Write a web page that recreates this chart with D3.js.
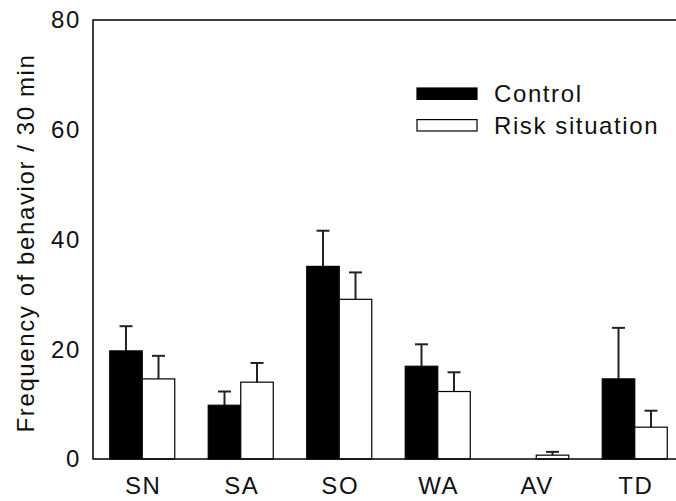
<!DOCTYPE html>
<html>
<head>
<meta charset="utf-8">
<script src="https://cdn.jsdelivr.net/npm/d3@7"></script>
<style>
body { margin: 0; background: #fff; }
text { font-family: "Liberation Sans", Arial, sans-serif; fill: #111; font-size: 24px; letter-spacing: 1.6px; }
</style>
</head>
<body>
<svg id="chart" width="676" height="501"></svg>
<script>
// behaviours on the x axis
const categories = ["SN", "SA", "SO", "WA", "AV", "TD"];
const seriesNames = ["Control", "Risk situation"];
// means
const controlValues = [19.7, 9.8, 35.1, 16.9, 0, 14.6];
const riskValues = [14.6, 14.0, 29.1, 12.3, 0.7, 5.8];
// upper error (mean + SE)
const controlErr = [24.2, 12.3, 41.6, 20.9, 0, 23.9];
const riskErr = [18.8, 17.5, 34.0, 15.8, 1.3, 8.8];
const yTicks = [0, 20, 40, 60, 80];

const svg = d3.select("#chart");
const mLeft = 93, mTop = 20, mBottom = 459, mRight = 684;

const x = d3.scaleBand()
    .domain(categories)
    .range([mLeft, mRight])
    .paddingInner(0.34)
    .paddingOuter(0.17);

const xInner = d3.scaleBand()
    .domain(seriesNames)
    .range([0, x.bandwidth()]);

const y = d3.scaleLinear()
    .domain([0, 80])
    .range([mBottom, mTop]);

const rows = [];
categories.forEach(function(c, i) {
    rows.push({cat: c, series: "Control", v: controlValues[i], e: controlErr[i]});
    rows.push({cat: c, series: "Risk situation", v: riskValues[i], e: riskErr[i]});
});

function fillFor(s) { return s == "Control" ? "#000" : "#fff"; }

// error bars (drawn first so bars cover the base of the line)
const eb = svg.append("g");
rows.filter(d => d.e > d.v).forEach(function(d) {
    const cx = x(d.cat) + xInner(d.series) + xInner.bandwidth() / 2;
    eb.append("line")
        .attr("x1", cx).attr("x2", cx)
        .attr("y1", y(d.v)).attr("y2", y(d.e))
        .attr("stroke", "#222").attr("stroke-width", 2);
    eb.append("line")
        .attr("x1", cx - 6.5).attr("x2", cx + 6.5)
        .attr("y1", y(d.e)).attr("y2", y(d.e))
        .attr("stroke", "#222").attr("stroke-width", 2);
});

svg.append("g").selectAll("rect")
    .data(rows.filter(d => d.v > 0))
    .join("rect")
    .attr("x", d => x(d.cat) + xInner(d.series))
    .attr("y", d => y(d.v))
    .attr("width", xInner.bandwidth())
    .attr("height", d => y(0) - y(d.v))
    .attr("fill", d => fillFor(d.series))
    .attr("stroke", "#000")
    .attr("stroke-width", 1.2);

// frame: left, bottom, top
svg.append("path")
    .attr("d", `M${mRight},${mTop}H${mLeft}V${mBottom}H${mRight}`)
    .attr("fill", "none")
    .attr("stroke", "#000")
    .attr("stroke-width", 1.5);

// y tick labels
svg.append("g").selectAll("text")
    .data(yTicks)
    .join("text")
    .attr("x", 81)
    .attr("y", d => y(d))
    .attr("dy", "0.35em")
    .attr("text-anchor", "end")
    .text(d => d);

// x labels
svg.append("g").selectAll("text")
    .data(categories)
    .join("text")
    .attr("x", d => x(d) + x.bandwidth() / 2 + 1)
    .attr("y", 494)
    .attr("text-anchor", "middle")
    .text(d => d);

svg.append("text")
    .attr("transform", "translate(34,243) rotate(-90)")
    .attr("text-anchor", "middle")
    .text("Frequency of behavior / 30 min");

// legend
const lg = svg.append("g").attr("transform", "translate(417,88)");
seriesNames.forEach(function(s, i) {
    lg.append("rect")
        .attr("x", 0).attr("y", i * 31.6)
        .attr("width", 60).attr("height", 11.4)
        .attr("fill", fillFor(s))
        .attr("stroke", "#000").attr("stroke-width", 1.2);
    lg.append("text")
        .attr("x", 77).attr("y", i * 31.6 + 14)
        .text(s);
});
</script>
</body>
</html>
